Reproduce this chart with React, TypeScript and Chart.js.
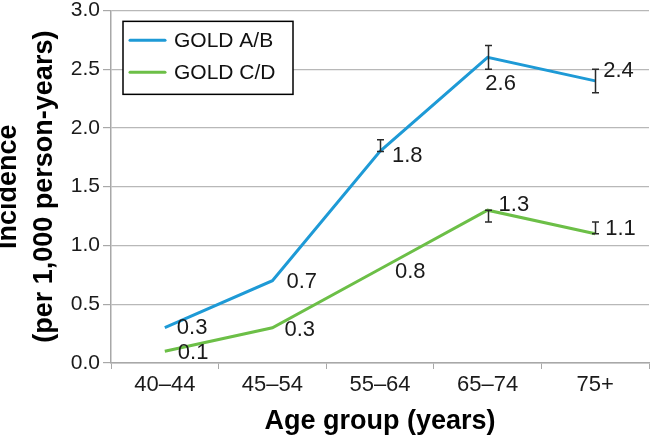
import React, { useEffect, useRef } from "react";
import { Chart, registerables } from "chart.js";

Chart.register(...registerables);

const categories = ["40–44", "45–54", "55–64", "65–74", "75+"];
const seriesNames = ["GOLD A/B", "GOLD C/D"];
const goldAB = [0.3, 0.7, 1.8, 2.6, 2.4];
const goldCD = [0.1, 0.3, 0.8, 1.3, 1.1];
const goldABLow = [null, null, 1.8, 2.5, 2.3];
const goldABHigh = [null, null, 1.9, 2.7, 2.5];
const goldCDLow = [null, null, null, 1.2, 1.1];
const goldCDHigh = [null, null, null, 1.3, 1.2];
const yMin = 0;
const yMax = 3;
const yStep = 0.5;

const FONT = "'Liberation Sans', Arial, Helvetica, sans-serif";
const BLUE = "#1e9ad6";
const GREEN = "#6cbf47";

// label nudges relative to each point: [dx, dy, textAlign]
const labelNudges: [number, number, CanvasTextAlign][][] = [
  [[12, 0, "left"], [14, 1, "left"], [12, 5, "left"], [13, 27, "center"], [8, -10, "left"]],
  [[13, 2, "left"], [12, 2, "left"], [15, 3, "left"], [11, -5, "left"], [10, -5, "left"]],
];

const errorLows = [goldABLow, goldCDLow];
const errorHighs = [goldABHigh, goldCDHigh];

const overlayPlugin = {
  id: "overlay",
  afterDatasetsDraw(chart: any) {
    const ctx = chart.ctx as CanvasRenderingContext2D;
    const yScale = chart.scales.y;
    ctx.save();
    // error bars
    ctx.strokeStyle = "#2a2a2a";
    ctx.lineWidth = 1.5;
    chart.data.datasets.forEach((ds: any, i: number) => {
      const meta = chart.getDatasetMeta(i);
      meta.data.forEach((pt: any, j: number) => {
        const lo = errorLows[i][j];
        const hi = errorHighs[i][j];
        if (lo == null || hi == null) return;
        const x = Math.round(pt.x) + 0.5;
        const y1 = yScale.getPixelForValue(lo);
        const y2 = yScale.getPixelForValue(hi);
        ctx.beginPath();
        ctx.moveTo(x, y1);
        ctx.lineTo(x, y2);
        ctx.moveTo(x - 3.5, y1);
        ctx.lineTo(x + 3.5, y1);
        ctx.moveTo(x - 3.5, y2);
        ctx.lineTo(x + 3.5, y2);
        ctx.stroke();
      });
    });
    // data labels
    ctx.fillStyle = "#1a1a1a";
    ctx.font = `22px ${FONT}`;
    ctx.textBaseline = "middle";
    chart.data.datasets.forEach((ds: any, i: number) => {
      const meta = chart.getDatasetMeta(i);
      meta.data.forEach((pt: any, j: number) => {
        const [dx, dy, align] = labelNudges[i][j];
        ctx.textAlign = align;
        ctx.fillText(Number(ds.data[j]).toFixed(1), pt.x + dx, pt.y + dy);
      });
    });
    // legend box
    const ca = chart.chartArea;
    const bx = ca.left + 12;
    const by = ca.top + 11;
    const bw = 170;
    const bh = 73;
    ctx.fillStyle = "#ffffff";
    ctx.fillRect(bx, by, bw, bh);
    ctx.strokeStyle = "#000000";
    ctx.lineWidth = 1.5;
    ctx.strokeRect(bx, by, bw, bh);
    ctx.font = `21px ${FONT}`;
    ctx.textAlign = "left";
    chart.data.datasets.forEach((ds: any, i: number) => {
      const cy = by + 19 + i * 32;
      ctx.strokeStyle = ds.borderColor;
      ctx.lineWidth = 3;
      ctx.lineCap = "round";
      ctx.beginPath();
      ctx.moveTo(bx + 7, cy);
      ctx.lineTo(bx + 42, cy);
      ctx.stroke();
      ctx.fillStyle = "#111111";
      ctx.fillText(ds.label, bx + 51, cy + 1);
    });
    ctx.restore();
  },
};

export default function App() {
  const canvasRef = useRef<HTMLCanvasElement | null>(null);

  useEffect(() => {
    if (!canvasRef.current) return;
    Chart.defaults.font.family = FONT;
    const chart = new Chart(canvasRef.current, {
      type: "line",
      data: {
        labels: categories,
        datasets: [
          {
            label: seriesNames[0],
            data: goldAB,
            borderColor: BLUE,
            backgroundColor: BLUE,
            borderWidth: 3,
            pointRadius: 0,
            tension: 0,
          },
          {
            label: seriesNames[1],
            data: goldCD,
            borderColor: GREEN,
            backgroundColor: GREEN,
            borderWidth: 3,
            pointRadius: 0,
            tension: 0,
          },
        ],
      },
      options: {
        animation: false,
        responsive: true,
        maintainAspectRatio: false,
        layout: { padding: { top: 8, right: 1, left: 0, bottom: 0 } },
        plugins: {
          legend: { display: false },
          tooltip: { enabled: false },
        },
        scales: {
          x: {
            type: "category",
            offset: true,
            grid: {
              display: true,
              offset: true,
              drawOnChartArea: false,
              drawTicks: true,
              tickLength: 6,
              tickColor: "#a8a8a8",
              color: "#a8a8a8",
            },
            border: { display: true, color: "#a8a8a8", width: 1.5 },
            ticks: {
              color: "#1a1a1a",
              font: { size: 22, family: FONT },
              padding: 3,
              maxRotation: 0,
              autoSkip: false,
            },
            title: {
              display: true,
              text: "Age group (years)",
              color: "#000000",
              font: { size: 27, weight: "bold", family: FONT, lineHeight: 1.2 },
              padding: { top: 0, bottom: -2 },
            },
            afterFit(scale: any) {
              scale.height = 73;
            },
          },
          y: {
            min: yMin,
            max: yMax,
            grid: {
              color: "#b8b8b8",
              lineWidth: 1.2,
              drawTicks: true,
              tickLength: 8,
              tickColor: "#a8a8a8",
            },
            border: { display: true, color: "#a8a8a8", width: 1.5 },
            ticks: {
              stepSize: yStep,
              color: "#1a1a1a",
              font: { size: 21, family: FONT, lineHeight: 0.7 },
              padding: 3,
              callback: (v: any) => Number(v).toFixed(1),
            },
            title: {
              display: true,
              text: ["Incidence", "(per 1,000 person-years)"],
              color: "#000000",
              font: { size: 27, weight: "bold", family: FONT, lineHeight: 1.35 },
              padding: { top: -10, bottom: 0 },
            },
            afterFit(scale: any) {
              scale.width = 111;
            },
          },
        },
      },
      plugins: [overlayPlugin],
    });
    return () => chart.destroy();
  }, []);

  return (
    <div style={{ position: "absolute", left: 0, top: 0, width: 650, height: 436, background: "#ffffff" }}>
      <canvas ref={canvasRef} />
    </div>
  );
}
